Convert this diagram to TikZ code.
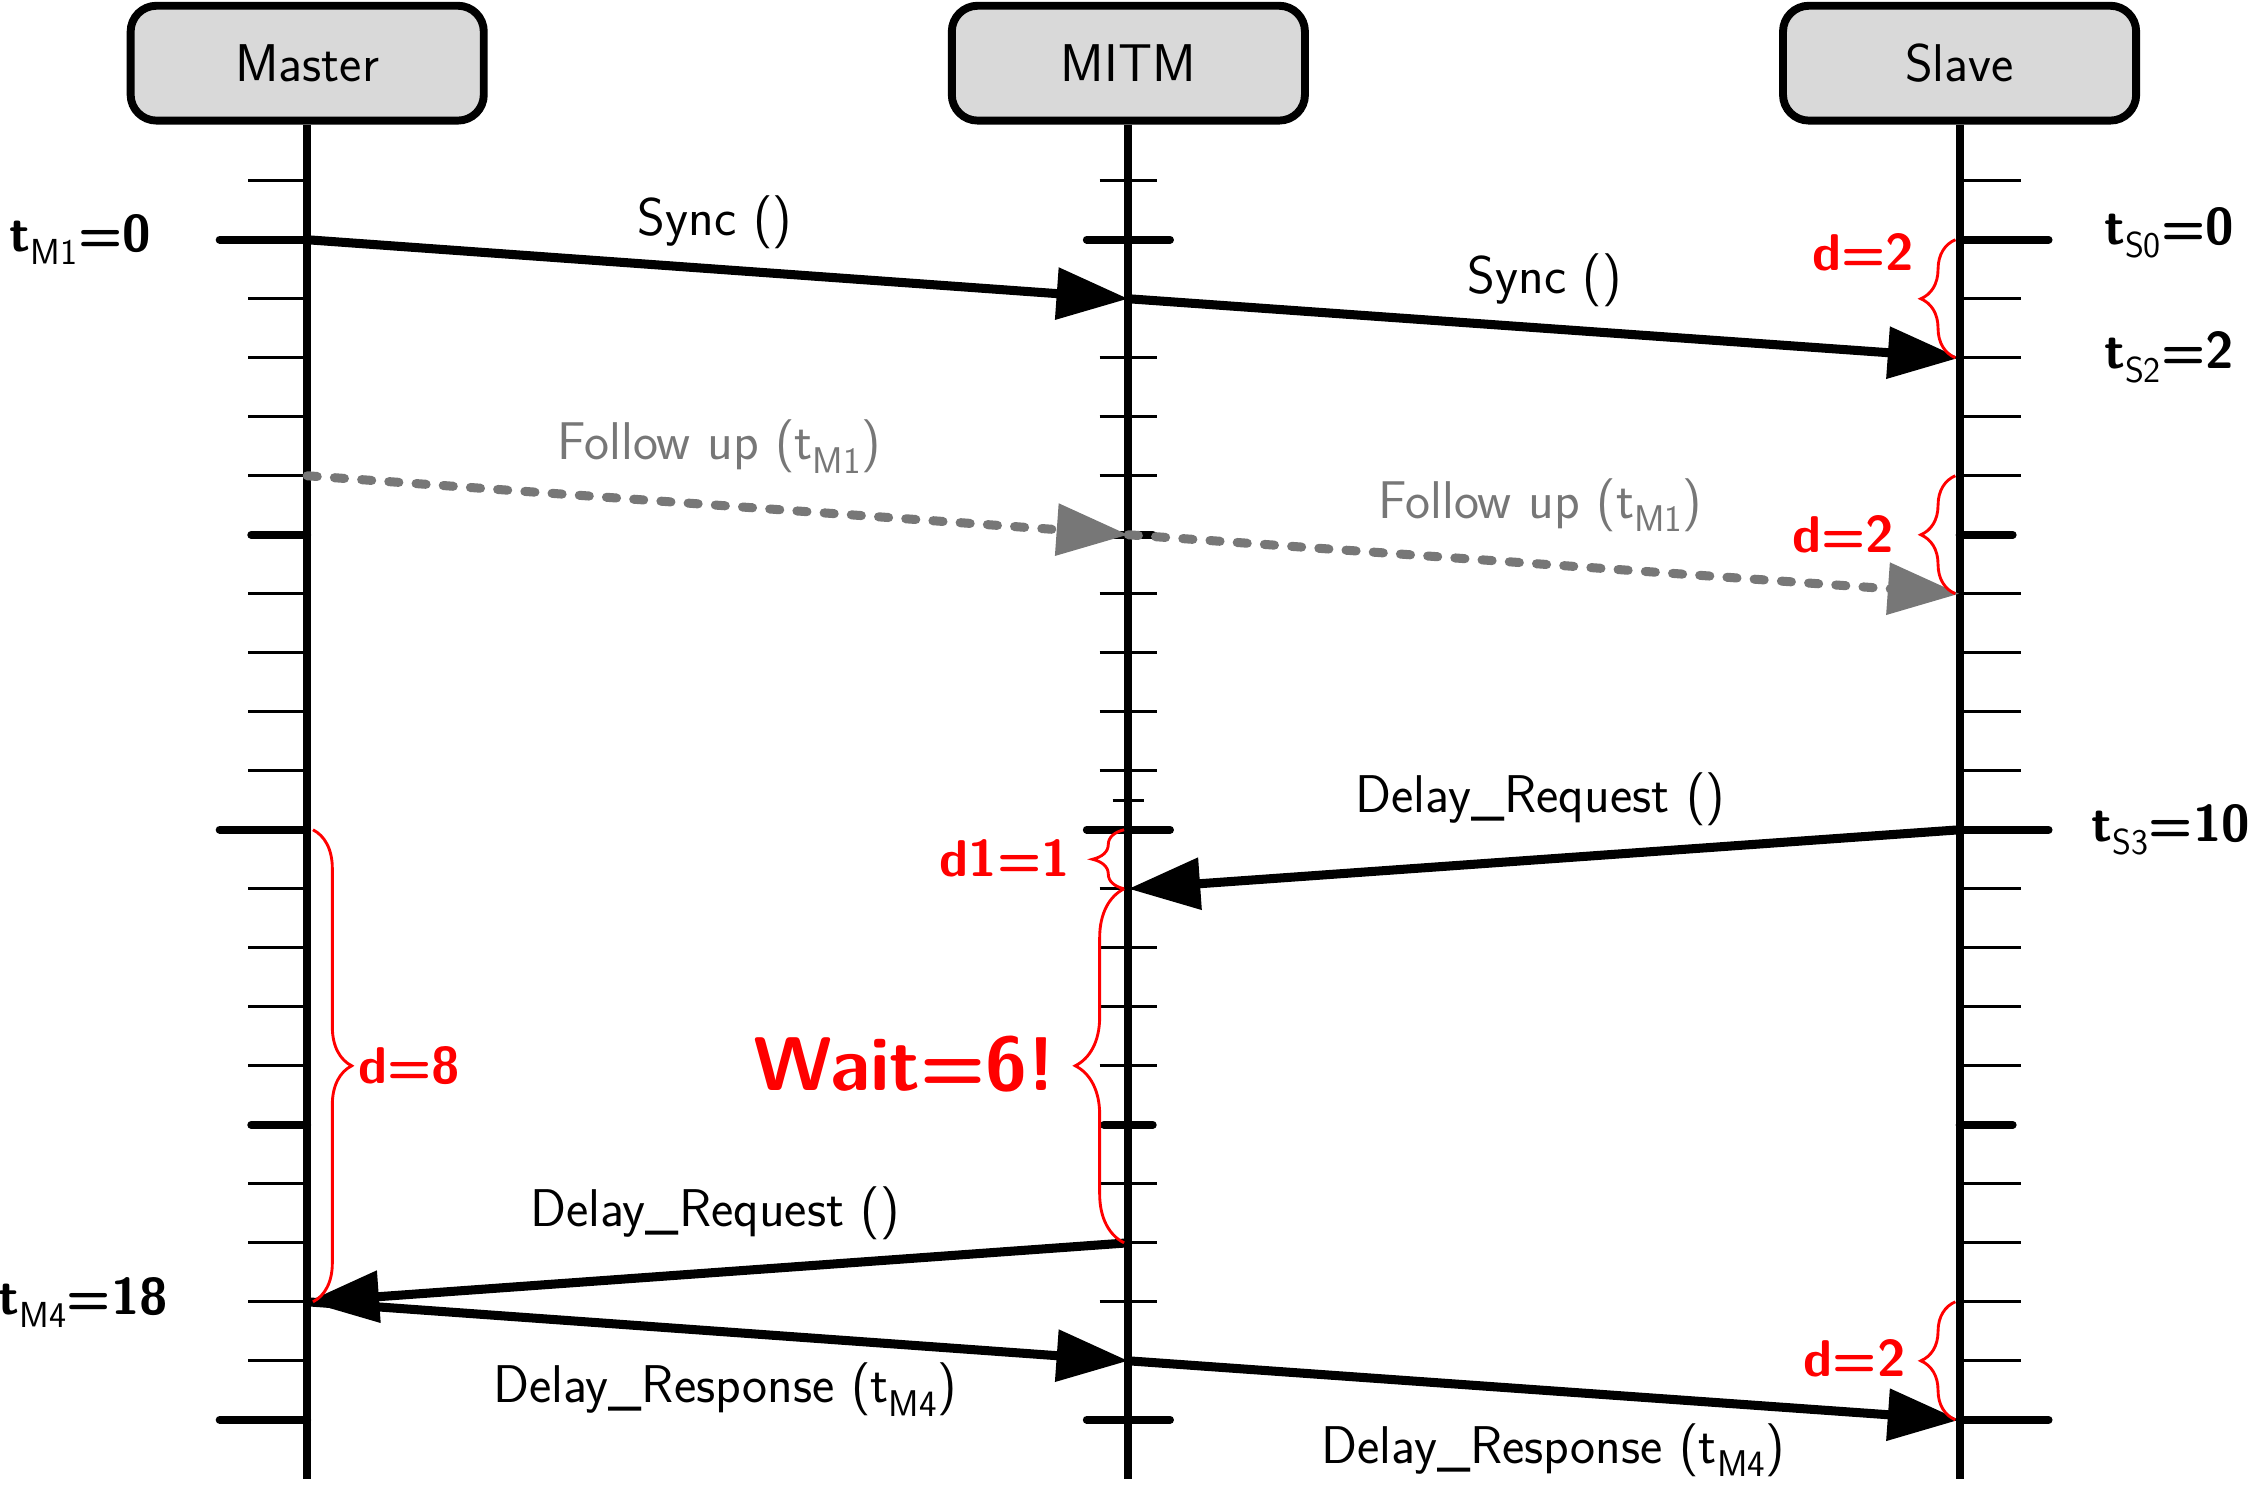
\documentclass[tikz,border=0pt]{standalone}
\usepackage{fontspec}
\usetikzlibrary{arrows.meta,decorations.pathreplacing}
\definecolor{boxgray}{HTML}{D9D9D9}
\definecolor{fugray}{HTML}{777777}
\definecolor{ared}{HTML}{FF0000}
\newcommand{\tsb}[1]{\textsubscript{\mdseries #1}}
\begin{document}
\begin{tikzpicture}[x=1pt,y=-1pt,
  font=\sffamily\fontsize{37}{44}\selectfont,
  actor/.style={draw, line width=5.5pt, fill=boxgray, rounded corners=18pt,
    minimum width=246pt, minimum height=80pt, inner sep=0pt},
  life/.style={line width=5.5pt},
  thintick/.style={line width=2pt},
  thicktick/.style={line width=5.5pt, line cap=round},
  msg/.style={line width=6.3pt, -{Triangle[length=50pt,width=35pt]}},
  fumsg/.style={msg, draw=fugray, line cap=round, dash pattern=on 7pt off 12pt},
  fulbl/.style={text=fugray},
  br/.style={draw=ared, line width=2pt, decorate, decoration={brace, amplitude=#1}},
  brlbl/.style={text=ared, font=\sffamily\bfseries\fontsize{36}{42}\selectfont},
  tlbl/.style={font=\sffamily\bfseries\fontsize{36}{42}\selectfont}
]
\useasboundingbox (0,0) rectangle (1568,1034);

% lifeline coordinates
\foreach \i in {-1,...,21} {
  \coordinate (M\i) at (214,{167+41.1*\i});
  \coordinate (I\i) at (786,{167+41.1*\i});
  \coordinate (S\i) at (1365,{167+41.1*\i});
}

% actors
\node[actor] (master) at (214,44) {Master};
\node[actor] (mitm) at (786,44) {MITM};
\node[actor] (slave) at (1365,44) {Slave};

% lifelines
\draw[life] (master.south) -- (M21);
\draw[life] (mitm.south) -- (I21);
\draw[life] (slave.south) -- (S21);

% ticks
\foreach \i in {-1,...,20} {
  \pgfmathtruncatemacro\r{mod(\i+10,10)}
  \pgfmathtruncatemacro\f{mod(\i+10,5)}
  \ifnum\r=0
    \draw[thicktick] (M\i) -- ++(-61,0);
    \draw[thicktick] (I\i) ++(-29,0) -- ++(58,0);
    \draw[thicktick] (S\i) -- ++(62,0);
  \else\ifnum\f=0
    \draw[thicktick] (M\i) -- ++(-39,0);
    \draw[thicktick] (I\i) ++(-17,0) -- ++(34,0);
    \draw[thicktick] (S\i) -- ++(37,0);
  \else
    \draw[thintick] (M\i) -- ++(-41,0);
    \draw[thintick] (I\i) ++(-20,0) -- ++(40,0);
    \draw[thintick] (S\i) -- ++(43,0);
  \fi\fi
}
\coordinate (Ihalf) at (786,557.5);
\draw[thintick] (Ihalf) ++(-11,0) -- ++(22,0);

% time labels
\node[tlbl] (tm1) at (56,167) {t\tsb{M1}=0};
\node[tlbl] (ts0) at (1511,162) {t\tsb{S0}=0};
\node[tlbl] (ts2) at (1511,249) {t\tsb{S2}=2};
\node[tlbl] (ts3) at (1512,578) {t\tsb{S3}=10};
\node[tlbl] (tm4) at (58,907) {t\tsb{M4}=18};

% messages
\draw[msg] (M0) -- (I1);
\draw[msg] (I1) -- (S2);
\draw[fumsg] (M4) -- (I5);
\draw[fumsg] (I5) -- (S6);
\draw[msg] (S10) -- (I11);
\draw[msg] (I17) -- (M18);
\draw[msg] (M18) -- (I19);
\draw[msg] (I19) -- (S20);

\node (l1) at (498,155) {Sync ()};
\node (l2) at (1076,195) {Sync ()};
\node[fulbl] (l3) at (501,311) {Follow up (t\tsb{M1})};
\node[fulbl] (l4) at (1073,352) {Follow up (t\tsb{M1})};
\node (l5) at (1073,557) {Delay\_Request ()};
\node (l6) at (498,845) {Delay\_Request ()};
\node (l7) at (505,968) {Delay\_Response (t\tsb{M4})};
\node (l8) at (1082,1010) {Delay\_Response (t\tsb{M4})};

% braces
\draw[br=24pt] ([xshift=-3pt]S2) -- ([xshift=-3pt]S0);
\draw[br=24pt] ([xshift=-3pt]S6) -- ([xshift=-3pt]S4);
\draw[br=24pt] ([xshift=-3pt]S20) -- ([xshift=-3pt]S18);
\draw[br=22pt] ([xshift=-3pt]I11) -- ([xshift=-3pt]I10);
\draw[br=34pt] ([xshift=-3pt]I17) -- ([xshift=-3pt]I11);
\draw[br=27pt] ([xshift=4pt]M10) -- ([xshift=4pt]M18);

\node[brlbl] (d1) at (1298,176) {d=2};
\node[brlbl] (d2) at (1284,372) {d=2};
\node[brlbl] (d3) at (1292,946) {d=2};
\node[brlbl] (d4) at (700,598) {d1=1};
\node[brlbl, font=\sffamily\bfseries\fontsize{53}{60}\selectfont] (wait) at (630,741) {Wait=6!};
\node[brlbl] (d5) at (285,742) {d=8};
\end{tikzpicture}
\end{document}
